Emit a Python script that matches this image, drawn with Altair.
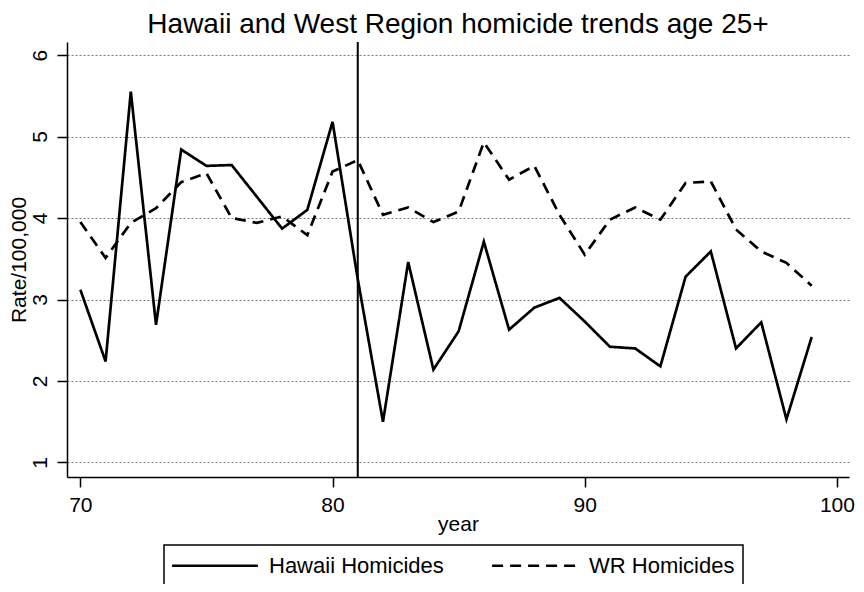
import altair as alt
import pandas as pd

years = list(range(70, 100))
hawaii = [3.12, 2.24, 5.55, 2.69, 4.84, 4.64, 4.65, 4.26, 3.87, 4.10,
          5.18, 3.25, 1.50, 3.46, 2.14, 2.61, 3.71, 2.63, 2.90, 3.02,
          2.73, 2.42, 2.40, 2.18, 3.28, 3.59, 2.40, 2.72, 1.53, 2.54]
wr = [3.95, 3.51, 3.94, 4.12, 4.44, 4.55, 4.00, 3.94, 4.02, 3.79,
      4.57, 4.71, 4.04, 4.13, 3.95, 4.08, 4.93, 4.47, 4.64, 4.04,
      3.55, 3.98, 4.13, 3.98, 4.43, 4.45, 3.86, 3.59, 3.45, 3.17]
series_names = ["Hawaii Homicides", "WR Homicides"]
x_ticks = [70, 80, 90, 100]
y_ticks = [1, 2, 3, 4, 5, 6]
cut_year = [81]

FONT = "Liberation Sans"

df = pd.DataFrame({
    "year": years + years,
    "rate": hawaii + wr,
    "series": [series_names[0]] * len(years) + [series_names[1]] * len(years),
})
cut_df = pd.DataFrame({"year": cut_year})

x_scale = alt.Scale(domain=[69.47, 100.48], nice=False, zero=False)
y_scale = alt.Scale(domain=[0.822, 6.16], nice=False, zero=False)

lines = alt.Chart(df).mark_line(color="black", strokeWidth=2.7).encode(
    x=alt.X("year:Q", scale=x_scale,
            axis=alt.Axis(values=x_ticks, title="year", grid=False,
                          labelPadding=7, titleY=36)),
    y=alt.Y("rate:Q", scale=y_scale,
            axis=alt.Axis(values=y_ticks, title="Rate/100,000", grid=True,
                          gridColor="#777777", gridDash=[2, 2], gridWidth=1,
                          labelAngle=270, labelAlign="center", labelBaseline="bottom",
                          labelPadding=7, titleX=-48, titleY=217.5, titleAngle=270,
                          titleAlign="center", titleBaseline="middle")),
    strokeDash=alt.StrokeDash(
        "series:N",
        scale=alt.Scale(domain=series_names, range=[[1, 0], [11, 7]]),
        legend=alt.Legend(title=None, orient="none", legendX=97, legendY=503,
                          direction="horizontal", symbolType="M-3.9,0H3.9",
                          symbolSize=484, symbolStrokeWidth=2.5,
                          symbolOffset=30.5,
                          symbolStrokeColor="black", labelFontSize=22,
                          labelFont=FONT, labelColor="black", labelOffset=41.5,
                          labelLimit=400,
                          columnPadding=43, strokeColor="black", padding=8),
    ),
)

cut = alt.Chart(cut_df).mark_rule(color="black", strokeWidth=2).encode(
    x=alt.X("year:Q", scale=x_scale)
)

chart = alt.layer(lines, cut).properties(
    width=782,
    height=435,
    title=alt.TitleParams("Hawaii and West Region homicide trends age 25+",
                          fontSize=28, fontWeight="normal", font=FONT,
                          color="black", anchor="middle", offset=2),
    autosize=alt.AutoSizeParams(type="none"),
    padding={"left": 59, "top": 34, "right": 7, "bottom": 107},
).configure_view(strokeWidth=0).configure_axis(
    domainColor="black", domainWidth=1.5, tickColor="black", tickSize=10,
    tickWidth=1.5, labelFont=FONT, labelFontSize=21, labelColor="black",
    titleFont=FONT, titleFontSize=21, titleFontWeight="normal", titleColor="black",
).configure_legend(strokeWidth=1.5)

chart.save("out.html", embed_options={"renderer": "svg", "actions": False})
